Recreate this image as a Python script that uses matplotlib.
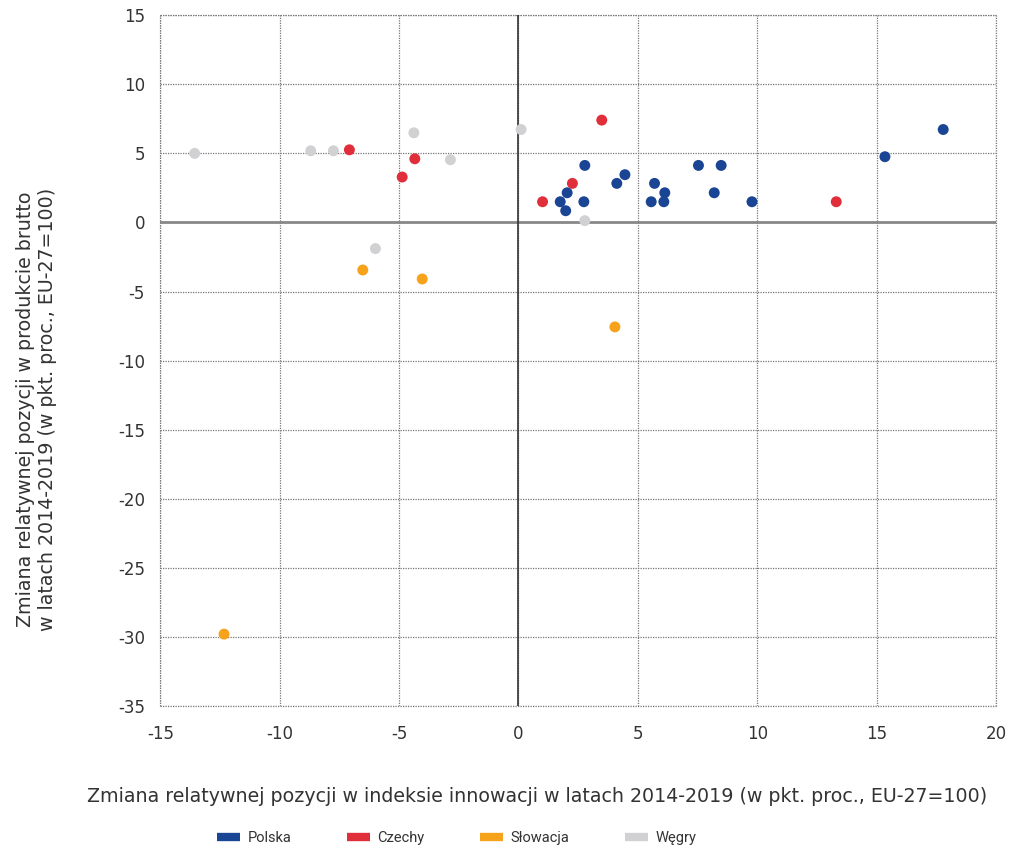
import matplotlib
matplotlib.use("Agg")
import matplotlib.pyplot as plt
from matplotlib.lines import Line2D

# data (x: innovation index change, y: gross output change)
polska_x = [2.78, 4.46, 4.12, 2.04, 1.75, 2.74, 1.98, 5.70, 6.13, 5.56, 6.09,
            7.54, 8.49, 8.20, 9.78, 15.35, 17.79]
polska_y = [4.13, 3.46, 2.83, 2.15, 1.50, 1.50, 0.85, 2.83, 2.15, 1.50, 1.50,
            4.13, 4.13, 2.15, 1.50, 4.76, 6.73]
czechy_x = [-7.08, -4.34, -4.87, 3.49, 2.26, 1.01, 13.31]
czechy_y = [5.26, 4.61, 3.29, 7.41, 2.83, 1.50, 1.50]
slowacja_x = [-6.52, -4.03, 4.04, -12.33]
slowacja_y = [-3.44, -4.09, -7.56, -29.8]
wegry_x = [-13.56, -8.70, -7.75, -4.38, -2.85, -5.99, 0.11, 2.78]
wegry_y = [5.00, 5.19, 5.19, 6.49, 4.54, -1.89, 6.73, 0.13]

series = [
    ("Polska", polska_x, polska_y, "#1A4594"),
    ("Czechy", czechy_x, czechy_y, "#E02F3B"),
    ("Słowacja", slowacja_x, slowacja_y, "#F7A21B"),
    ("Węgry", wegry_x, wegry_y, "#D1D1D3"),
]

x_ticks = list(range(-15, 21, 5))
y_ticks = list(range(-35, 16, 5))

plt.rcParams["font.family"] = ["DejaVu Sans"]

fig = plt.figure(figsize=(10.19, 8.48), dpi=100)
ax = fig.add_axes([0.1573, 0.1675, 0.8201, 0.8145])

for name, xs, ys, color in series:
    ax.scatter(xs, ys, s=62, color=color, edgecolors="none", zorder=4)

ax.set_xlim(-15, 20)
ax.set_ylim(-35, 15)
ax.set_xticks(x_ticks)
ax.set_yticks(y_ticks)
ax.set_xticklabels([str(v) for v in x_ticks])
ax.set_yticklabels([str(v) for v in y_ticks])
ax.tick_params(length=0, labelsize=12, colors="#333333")
ax.tick_params(axis="x", pad=14)
ax.tick_params(axis="y", pad=11)

for s in ax.spines.values():
    s.set_visible(False)
ax.grid(True, color="#777777", linestyle=(0, (1, 1)), linewidth=0.9, zorder=0)
ax.set_axisbelow(True)
# outer border drawn as dotted grid too
for v in (-15, 20):
    ax.axvline(v, color="#777777", linestyle=(0, (1, 1)), linewidth=0.9, zorder=1, clip_on=False)
for v in (-35, 15):
    ax.axhline(v, color="#777777", linestyle=(0, (1, 1)), linewidth=0.9, zorder=1, clip_on=False)

ax.axhline(0, color="#888888", linewidth=2.0, zorder=2)
ax.axvline(0, color="#333333", linewidth=1.2, zorder=2)

ax.set_xlabel("Zmiana relatywnej pozycji w indeksie innowacji w latach 2014-2019 (w pkt. proc., EU-27=100)",
              fontsize=13.7, color="#333333")
ax.xaxis.set_label_coords(0.451, -0.117)
ax.set_ylabel("Zmiana relatywnej pozycji w produkcie brutto\nw latach 2014-2019 (w pkt. proc., EU-27=100)",
              fontsize=13.7, color="#333333")
ax.yaxis.set_label_coords(-0.123, 0.43)

handles = [Line2D([0], [0], color=c, linewidth=6, solid_capstyle="butt") for _, _, _, c in series]
labels = [n for n, _, _, _ in series]
fig.legend(handles, labels, loc="center", bbox_to_anchor=(0.448, 0.012), ncol=4, frameon=False,
           prop={"family": "Roboto", "size": 10.5}, handlelength=1.6, handletextpad=0.5,
           columnspacing=3.8, labelcolor="#333333")

fig.savefig("out.png", dpi=100)
